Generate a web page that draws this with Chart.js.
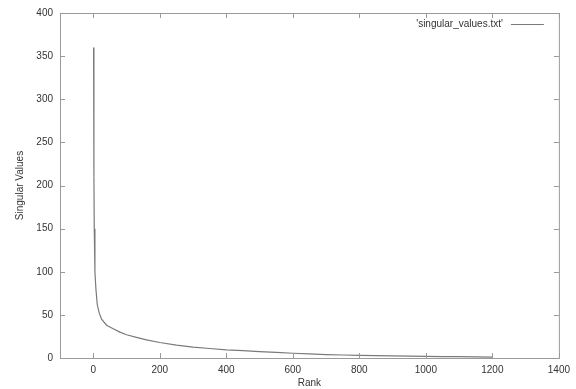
<!DOCTYPE html>
<html>
<head>
<meta charset="utf-8">
<script src="https://cdn.jsdelivr.net/npm/chart.js@4"></script>
<style>
  body{margin:0;background:#fff;}
  #wrap{width:576px;height:389px;}
</style>
</head>
<body>
<div id="wrap"><canvas id="myChart" width="576" height="389"></canvas></div>
<script>
// rank / singular value pairs
const ranks  = [1, 2, 3, 5, 8, 12, 18, 25, 40, 60, 80, 100, 130, 160, 200, 250, 300, 350, 400, 450, 500, 550, 600, 650, 700, 750, 800, 850, 900, 950, 1000, 1050, 1100, 1150, 1200];
const values = [360, 210, 150, 100, 80, 62, 52, 45, 38, 34, 30, 27, 24, 21, 18, 15, 12.5, 11, 9.5, 8.5, 7.5, 6.5, 5.5, 4.8, 4, 3.5, 3, 2.8, 2.4, 2.1, 1.9, 1.7, 1.5, 1.2, 1.0];
const xTicks = [0, 200, 400, 600, 800, 1000, 1200, 1400];
const yTicks = [0, 50, 100, 150, 200, 250, 300, 350, 400];
const seriesName = "'singular_values.txt'";

const lineCol = '#7a7a7a';
const axisCol = '#9a9a9a';
const font = {family: 'Liberation Sans, Arial, sans-serif', size: 10};

// gnuplot style frame: box + inward ticks on all four sides + legend
const frame = {
    id: 'frame',
    afterDraw(chart){
        var c = chart.ctx, a = chart.chartArea;
        var xs = chart.scales.x, ys = chart.scales.y;
        c.save();
        c.strokeStyle = axisCol;
        c.lineWidth = 1;
        c.strokeRect(a.left + 0.5, a.top + 0.5, a.right - a.left, a.bottom - a.top);
        c.beginPath();
        xTicks.forEach(v => {
            var px = Math.round(xs.getPixelForValue(v)) + 0.5;
            c.moveTo(px, a.bottom); c.lineTo(px, a.bottom - 5);
            c.moveTo(px, a.top); c.lineTo(px, a.top + 5);
        });
        yTicks.forEach(v => {
            var py = Math.round(ys.getPixelForValue(v)) + 0.5;
            c.moveTo(a.left, py); c.lineTo(a.left + 5, py);
            c.moveTo(a.right, py); c.lineTo(a.right - 5, py);
        });
        c.stroke();
        // legend
        c.font = '10px ' + font.family;
        c.fillStyle = '#333';
        c.textAlign = 'right';
        c.textBaseline = 'middle';
        c.fillText(seriesName, a.right - 56, a.top + 11);
        c.strokeStyle = lineCol;
        c.beginPath();
        c.moveTo(a.right - 48, a.top + 11.5);
        c.lineTo(a.right - 15, a.top + 11.5);
        c.stroke();
        c.restore();
    }
};

var ctx = document.getElementById('myChart').getContext('2d');
var myChart = new Chart(ctx, {
    type: 'line',
    data: {
        datasets: [{
            label: seriesName,
            data: ranks.map((r, i) => ({x: r, y: values[i]})),
            borderColor: lineCol,
            borderWidth: 1.2,
            pointRadius: 0,
            fill: false,
            tension: 0
        }]
    },
    options: {
        responsive: false,
        animation: false,
        layout: {padding: {top: 13, right: 9, left: 0, bottom: 0}},
        plugins: {legend: {display: false}, tooltip: {enabled: false}},
        scales: {
            x: {
                type: 'linear',
                min: -100, max: 1400,
                afterBuildTicks: ax => { ax.ticks = xTicks.map(v => ({value: v})); },
                afterFit: ax => { ax.height = 31; },
                border: {display: false},
                grid: {display: false, drawTicks: false},
                ticks: {color: '#333', font: font, padding: 6, maxRotation: 0, callback: v => String(v)},
                title: {display: true, text: 'Rank', color: '#333', font: font, padding: {top: 0, bottom: 0}}
            },
            y: {
                min: 0, max: 400,
                afterBuildTicks: ax => { ax.ticks = yTicks.map(v => ({value: v})); },
                afterFit: ax => { ax.width = 60; },
                border: {display: false},
                grid: {display: false, drawTicks: false},
                ticks: {color: '#333', font: font, padding: 7, callback: v => String(v)},
                title: {display: true, text: 'Singular Values', color: '#333', font: font, padding: {top: 14, bottom: 0}}
            }
        }
    },
    plugins: [frame]
});
</script>
</body>
</html>
